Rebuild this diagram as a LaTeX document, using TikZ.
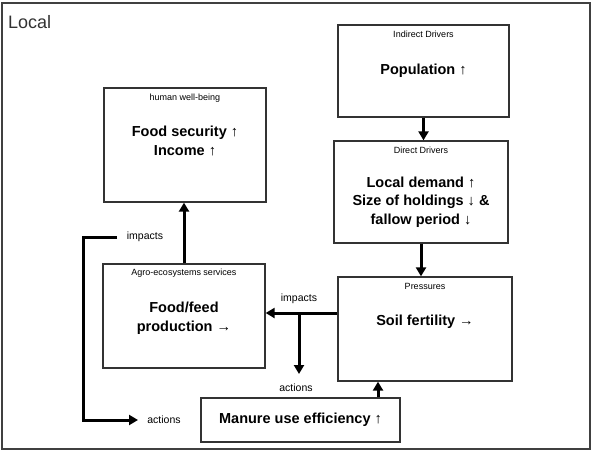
\documentclass[tikz,border=0pt]{standalone}
\usepackage{fontspec}
\setmainfont{Liberation Sans}
\usetikzlibrary{arrows.meta}
\begin{document}
\begin{tikzpicture}[x=1pt,y=-1pt,
 box/.style={draw=black!80, line width=1.3pt, inner sep=0pt},
 ttl/.style={font=\fontsize{9}{10}\selectfont, inner sep=0pt},
 maintxt/.style={font=\fontsize{14.5}{18.5}\selectfont\bfseries, align=center, inner sep=0pt},
 lab/.style={font=\fontsize{10.5}{12}\selectfont, inner sep=0pt},
 arr/.style={line width=3pt, -{Triangle[length=9pt,width=10pt]}}]
\useasboundingbox (0,0) rectangle (594,452);
\draw[line width=1.4pt, black!75] (2,3) rectangle (590,449);
\node[anchor=base west, inner sep=0pt, font=\fontsize{18}{20}\selectfont, text=black!80] (local) at (8,29) {Local};

% boxes
\node[box, minimum width=162pt, minimum height=114pt] (hwb) at (185,145) {};
\node[box, minimum width=171pt, minimum height=92pt] (ind) at (423.5,71) {};
\node[box, minimum width=174pt, minimum height=102pt] (dir) at (421,192) {};
\node[box, minimum width=174pt, minimum height=104pt] (pres) at (425,329) {};
\node[box, minimum width=162pt, minimum height=104pt] (agro) at (184,316) {};
\node[box, minimum width=199pt, minimum height=44pt] (man) at (300.5,420) {};

% titles
\node[ttl] (thwb) at (185,98) {human well-being};
\node[ttl] (tind) at (423.5,34) {Indirect Drivers};
\node[ttl] (tdir) at (421,150) {Direct Drivers};
\node[ttl] (tpres) at (425,286) {Pressures};
\node[ttl] (tagro) at (184,273) {Agro-ecosystems services};

% main texts
\node[maintxt] (mhwb) at (185,141) {Food security ↑\\Income ↑};
\node[maintxt] (mind) at (423.5,71) {Population ↑};
\node[maintxt] (mdir) at (421,202) {Local demand ↑\\Size of holdings ↓ \&\\fallow period ↓};
\node[maintxt] (mpres) at (425,322) {Soil fertility →};
\node[maintxt] (magro) at (184,318) {Food/feed\\production →};
\node[maintxt] (mman) at (300.5,420) {Manure use efficiency ↑};

% labels
\node[lab] (imp1) at (145,237) {impacts};
\node[lab] (act1) at (164,420) {actions};
\node[lab] (imp2) at (299,299) {impacts};
\node[lab] (act2) at (296,388) {actions};

% coordinates
\coordinate (j) at (299,313);
\coordinate (jend) at (299,374);
\coordinate (ls) at (117,237);
\coordinate (lc) at (83,237);
\coordinate (le) at (138,420);

% connectors
\draw[arr] (ind.south) -- (ind.south |- dir.north);
\draw[arr] (dir.south) -- (dir.south |- pres.north);
\draw[arr] (pres.west |- j) -- (agro.east |- j);
\draw[arr] (j) -- (jend);
\draw[arr] (agro.north) -- (agro.north |- hwb.south);
\draw[arr] (378,0 |- man.north) -- (378,0 |- pres.south);
\draw[arr] (ls) -- (lc) |- (le);
\end{tikzpicture}
\end{document}
